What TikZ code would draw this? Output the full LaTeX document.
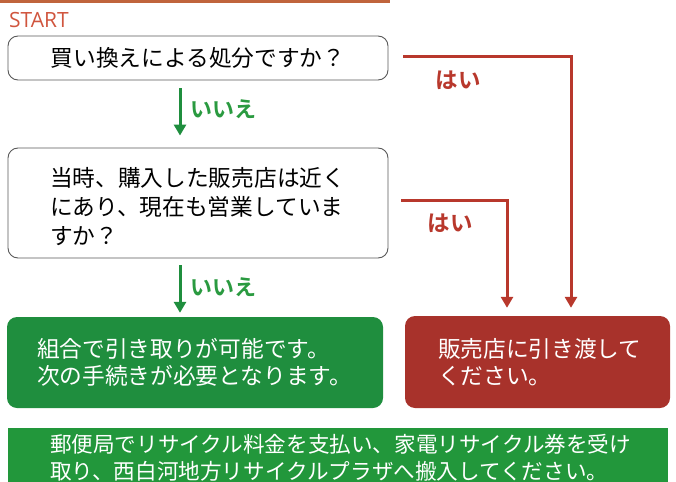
\documentclass[tikz,border=0pt]{standalone}
\usepackage{fontspec}
\newfontfamily\cjk{Noto Sans CJK JP}
\newfontfamily\cjkb{Noto Sans CJK JP Bold}
\usetikzlibrary{arrows.meta,calc}
\definecolor{gbox}{HTML}{1F8E3E}
\definecolor{gband}{HTML}{22973B}
\definecolor{rbox}{HTML}{A8322B}
\definecolor{rline}{HTML}{B8382C}
\definecolor{glabel}{HTML}{2A9A40}
\definecolor{startc}{HTML}{D0553E}
\definecolor{topbar}{HTML}{C0643C}
\tikzset{
  qbox/.style={draw=black!65, line width=0.9pt, rounded corners=10pt, fill=white, inner sep=0pt,
    font=\cjk\fontsize{22.7}{29}\selectfont, align=left},
  fillbox/.style={rounded corners=10pt, inner sep=0pt, text=white,
    font=\cjk\fontsize{22.7}{27}\selectfont, align=left},
  garrow/.style={draw=gbox, line width=3pt, -{Triangle[width=12pt,length=11pt]}},
  rarrow/.style={draw=rline, line width=3pt, -{Triangle[width=12pt,length=11pt]}},
  nolabel/.style={font=\cjkb\fontsize{22}{22}\selectfont, text=glabel, inner sep=0pt},
  yeslabel/.style={font=\cjkb\fontsize{22.5}{22}\selectfont, text=rline, inner sep=0pt}
}
\begin{document}
\begin{tikzpicture}[x=1pt,y=-1pt]
\useasboundingbox (0,0) rectangle (676,481);
\fill[topbar] (0,0) rectangle (390,3);
\node[anchor=west, text=startc, font=\fontspec{Open Sans}\fontsize{21}{21}\selectfont, inner sep=0pt] (start) at (9,20.5) {START};

\node[qbox, minimum width=380pt, minimum height=44pt] (box1) at (198,58) {買い換えによる処分ですか？};
\node[qbox, minimum width=380pt, minimum height=110pt, text width=296pt] (box2) at (198,203)
  {\rule{0pt}{26pt}当時、購入した販売店は近く\\にあり、現在も営業していま\\すか？};

\node[fillbox, fill=gbox, minimum width=376pt, minimum height=91pt, text width=316pt] (gres) at (195,362.5)
  {組合で引き取りが可能です。\\次の手続きが必要となります。};
\node[fillbox, fill=rbox, minimum width=265pt, minimum height=92pt, text width=199pt] (rres) at (537.5,362)
  {販売店に引き渡して\\ください。};
\node[fill=gband, inner sep=0pt, minimum width=660pt, minimum height=60pt, text width=576pt, align=left,
  text=white, font=\cjk\fontsize{21.6}{27}\selectfont] (band) at (338,458)
  {郵便局でリサイクル料金を支払い、家電リサイクル券を受け\\取り、西白河地方リサイクルプラザへ搬入してください。};

% green "no" arrows
\coordinate (gx) at (180,0);
\draw[garrow, shorten <=8pt, shorten >=12pt] (box1.south -| gx) -- (box2.north -| gx);
\draw[garrow, shorten <=7pt, shorten >=4pt] (box2.south -| gx) -- (gres.north -| gx);
\node[nolabel] (no1) at (223,109) {いいえ};
\node[nolabel] (no2) at (223,287) {いいえ};

% red "yes" arrows
\coordinate (r1x) at (571,0);
\coordinate (r2x) at (507,0);
\draw[rarrow, shorten >=8pt] ($(box1.east)+(15,-1)$) -| (rres.north -| r1x);
\draw[rarrow, shorten >=8pt] ($(box2.east)+(13,-3)$) -| (rres.north -| r2x);
\node[yeslabel] (yes1) at (458,80) {はい};
\node[yeslabel] (yes2) at (450,223) {はい};
\end{tikzpicture}
\end{document}
